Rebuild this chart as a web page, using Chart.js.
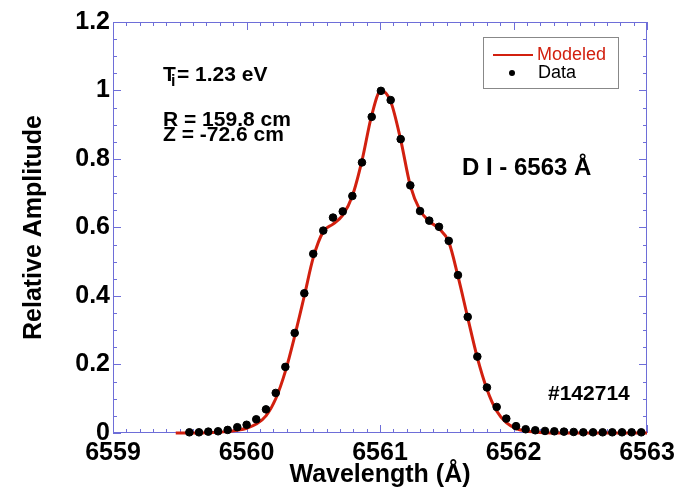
<!DOCTYPE html>
<html><head><meta charset="utf-8">
<script src="https://cdn.jsdelivr.net/npm/chart.js@4/dist/chart.umd.min.js"></script>
<style>html,body{margin:0;padding:0;background:#fff}#wrap{width:696px;height:490px}</style>
</head><body><div id="wrap"><canvas id="c" width="696" height="490"></canvas></div>
<script>
// ---- data ----
const dataWavelength = [6559.572,6559.644,6559.714,6559.787,6559.859,6559.931,6560.001,6560.073,6560.146,6560.219,6560.291,6560.361,6560.433,6560.500,6560.575,6560.648,6560.721,6560.793,6560.865,6560.938,6561.007,6561.080,6561.155,6561.227,6561.300,6561.369,6561.442,6561.515,6561.584,6561.657,6561.729,6561.801,6561.874,6561.946,6562.019,6562.091,6562.163,6562.236,6562.306,6562.378,6562.451,6562.523,6562.596,6562.668,6562.740,6562.813,6562.885,6562.957];
const dataAmplitude = [0.002,0.002,0.004,0.005,0.009,0.017,0.024,0.040,0.069,0.117,0.193,0.292,0.408,0.523,0.591,0.629,0.647,0.692,0.790,0.923,0.999,0.972,0.858,0.723,0.648,0.620,0.602,0.561,0.461,0.339,0.223,0.133,0.076,0.042,0.020,0.011,0.008,0.006,0.005,0.004,0.003,0.002,0.002,0.002,0.002,0.002,0.002,0.002];
const modelWavelength = [6559.470,6559.572,6559.644,6559.714,6559.787,6559.859,6559.931,6560.001,6560.073,6560.146,6560.219,6560.291,6560.361,6560.433,6560.500,6560.575,6560.648,6560.721,6560.793,6560.865,6560.938,6561.007,6561.080,6561.155,6561.227,6561.300,6561.369,6561.442,6561.515,6561.584,6561.657,6561.729,6561.801,6561.874,6561.946,6562.019,6562.091,6562.163,6562.236,6562.306,6562.600,6563.000];
const modelAmplitude = [0.000,0.000,0.000,0.001,0.002,0.004,0.008,0.014,0.026,0.050,0.100,0.180,0.283,0.400,0.512,0.588,0.610,0.636,0.692,0.795,0.928,1.000,0.968,0.856,0.722,0.650,0.618,0.597,0.558,0.458,0.337,0.220,0.128,0.064,0.030,0.013,0.006,0.003,0.001,0.000,0.000,0.000];
const xTickLabels = ['6559','6560','6561','6562','6563'];
const yTickLabels = ['0','0.2','0.4','0.6','0.8','1','1.2'];
const seriesNames = ['Data','Modeled'];

const FONT = "'Liberation Sans', Arial, Helvetica, sans-serif";
const FRAME = '#6e6ed8';

const framePlugin = {
  id: 'frame',
  beforeDatasetsDraw(chart) {
    const {ctx, chartArea: a, scales: {x, y}} = chart;
    ctx.save();
    ctx.strokeStyle = FRAME; ctx.lineWidth = 1;
    ctx.strokeRect(a.left + 0.5, a.top + 0.5, a.right - a.left - 1, a.bottom - a.top - 1);
    ctx.beginPath();
    for (let i = 0; i <= 40; i++) {
      const v = x.min + i * 0.1;
      const px = Math.round(x.getPixelForValue(v)) + 0.5;
      const len = (i % 10 === 0) ? 8 : 4;
      ctx.moveTo(px, a.bottom); ctx.lineTo(px, a.bottom - len);
      ctx.moveTo(px, a.top); ctx.lineTo(px, a.top + len);
    }
    for (let i = 0; i <= 24; i++) {
      const v = i * 0.05;
      const py = Math.round(y.getPixelForValue(v)) + 0.5;
      const len = (i % 4 === 0) ? 8 : 4;
      ctx.moveTo(a.left, py); ctx.lineTo(a.left + len, py);
      ctx.moveTo(a.right, py); ctx.lineTo(a.right - len, py);
    }
    ctx.stroke();
    ctx.restore();
  },
  afterDraw(chart) {
    const {ctx} = chart;
    ctx.save();
    ctx.fillStyle = '#000';
    ctx.textBaseline = 'alphabetic';
    ctx.textAlign = 'left';
    ctx.font = 'bold 21px ' + FONT;
    ctx.fillText('T', 163, 81);
    ctx.font = 'bold 16px ' + FONT;
    ctx.fillText('i', 171, 86);
    ctx.font = 'bold 21px ' + FONT;
    ctx.fillText('= 1.23 eV', 177, 81);
    ctx.fillText('R = 159.8 cm', 163, 126);
    ctx.fillText('Z = -72.6 cm', 163, 141);
    ctx.font = 'bold 24px ' + FONT;
    ctx.fillText('D I - 6563 \u00C5', 462, 175);
    ctx.font = 'bold 21px ' + FONT;
    ctx.fillText('#142714', 548, 400);
    const ds = chart.data.datasets;
    ctx.strokeStyle = '#888'; ctx.lineWidth = 1;
    ctx.strokeRect(483.5, 37.5, 135, 51);
    ctx.font = '18px ' + FONT;
    ctx.textBaseline = 'middle';
    ctx.strokeStyle = ds[1].borderColor; ctx.lineWidth = 2;
    ctx.beginPath(); ctx.moveTo(493, 55); ctx.lineTo(533, 55); ctx.stroke();
    ctx.fillStyle = ds[1].borderColor;
    ctx.fillText(ds[1].label, 537, 55);
    ctx.fillStyle = ds[0].backgroundColor;
    ctx.beginPath(); ctx.arc(512, 73, 3, 0, Math.PI * 2); ctx.fill();
    ctx.fillStyle = '#000';
    ctx.fillText(ds[0].label, 538, 73);
    ctx.restore();
  }
};

new Chart(document.getElementById('c'), {
  type: 'scatter',
  data: {
    datasets: [
      {
        label: seriesNames[0],
        data: dataWavelength.map((w, i) => ({x: w, y: dataAmplitude[i]})),
        backgroundColor: '#000', borderColor: '#000',
        pointRadius: 3.8, pointHoverRadius: 3.8, showLine: false, clip: false, order: 0
      },
      {
        label: seriesNames[1],
        data: modelWavelength.map((w, i) => ({x: w, y: modelAmplitude[i]})),
        borderColor: '#d2200f', backgroundColor: '#d2200f',
        borderWidth: 3, pointRadius: 0, showLine: true,
        cubicInterpolationMode: 'monotone', clip: false, order: 1
      }
    ]
  },
  options: {
    responsive: false, animation: false, devicePixelRatio: 1,
    layout: {padding: {top: 22, right: 49, left: 0, bottom: 0}},
    plugins: {legend: {display: false}, tooltip: {enabled: false}},
    scales: {
      x: {
        type: 'linear', min: 6559, max: 6563,
        grid: {display: false, drawTicks: false}, border: {display: false},
        ticks: {stepSize: 1, padding: 5, color: '#000', font: {family: FONT, size: 25, weight: 'bold'},
          callback: (v) => xTickLabels[Math.round(v - 6559)]},
        title: {display: true, text: 'Wavelength (\u00C5)', color: '#000', padding: {top: 0, bottom: 0},
          font: {family: FONT, size: 25, weight: 'bold'}},
        afterFit: (s) => { s.height = 57; }
      },
      y: {
        type: 'linear', min: 0, max: 1.2,
        grid: {display: false, drawTicks: false}, border: {display: false},
        ticks: {stepSize: 0.2, padding: 3, color: '#000', font: {family: FONT, size: 25, weight: 'bold'},
          callback: (v) => yTickLabels[Math.round(v / 0.2)]},
        title: {display: true, text: 'Relative Amplitude', color: '#000', padding: {top: 19, bottom: 0},
          font: {family: FONT, size: 25, weight: 'bold'}},
        afterFit: (s) => { s.width = 113; }
      }
    }
  },
  plugins: [framePlugin]
});
</script></body></html>
